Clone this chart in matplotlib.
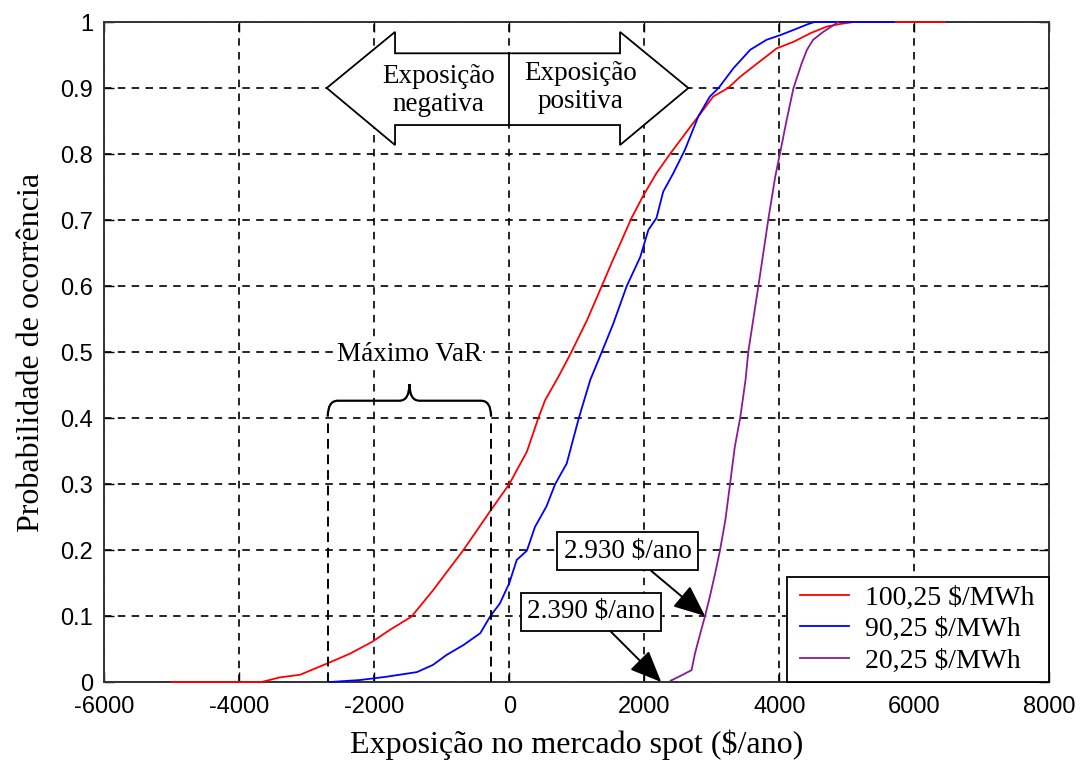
import matplotlib
matplotlib.use("Agg")
import matplotlib.pyplot as plt
from matplotlib.path import Path
from matplotlib.patches import PathPatch, Polygon
from matplotlib.legend_handler import HandlerLine2D
from matplotlib.lines import Line2D

# ---------------- data ----------------
red_label = "100,25 $/MWh"
red_x = [-5000, -3670, -3400, -3100, -2700, -2360, -2030, -1770, -1450, -1130, -680, -290, 0,
         260, 430, 530, 730, 920, 1150, 1370, 1520, 1690, 1810, 1990, 2180, 2380, 2680, 2830,
         3020, 3240, 3420, 3670, 3960, 4210, 4460, 4700, 4900, 5100, 6450]
red_y = [0, 0, 0.007, 0.011, 0.028, 0.043, 0.061, 0.079, 0.099, 0.139, 0.2, 0.258, 0.3,
         0.349, 0.4, 0.427, 0.463, 0.5, 0.548, 0.6, 0.636, 0.675, 0.703, 0.738, 0.771, 0.8, 0.841, 0.861,
         0.887, 0.9, 0.917, 0.937, 0.96, 0.97, 0.983, 0.993, 0.997, 1.0, 1.0]

blue_label = "90,25 $/MWh"
blue_x = [-2660, -2210, -1820, -1370, -1130, -930, -680, -430, -280, -140, 0, 110, 260, 380,
          550, 680, 850, 1030, 1200, 1370, 1540, 1740, 1940, 2060, 2180, 2280, 2430, 2600, 2800,
          2970, 3100, 3320, 3570, 3810, 4010, 4210, 4430, 4520, 5700]
blue_y = [0, 0.003, 0.008, 0.015, 0.026, 0.041, 0.056, 0.074, 0.1, 0.119, 0.15, 0.185, 0.199, 0.235,
          0.266, 0.3, 0.331, 0.4, 0.458, 0.5, 0.543, 0.6, 0.644, 0.685, 0.703, 0.743, 0.771, 0.806, 0.857,
          0.887, 0.9, 0.93, 0.958, 0.973, 0.98, 0.988, 0.997, 1.0, 1.0]

purple_label = "20,25 $/MWh"
purple_x = [2390, 2530, 2700, 2750, 2830, 2900, 2970, 3050, 3120, 3200, 3270, 3340, 3420, 3500,
            3540, 3690, 3840, 3940, 4010, 4110, 4210, 4330, 4410, 4500, 4650, 4800, 4870]
purple_y = [0.002, 0.009, 0.018, 0.043, 0.074, 0.1, 0.129, 0.165, 0.199, 0.245, 0.3, 0.356, 0.4, 0.458,
            0.5, 0.6, 0.703, 0.766, 0.801, 0.852, 0.9, 0.937, 0.958, 0.973, 0.985, 0.995, 1.0]

x_ticks = [-6000, -4000, -2000, 0, 2000, 4000, 6000, 8000]
y_ticks = [0, 0.1, 0.2, 0.3, 0.4, 0.5, 0.6, 0.7, 0.8, 0.9, 1.0]
y_tick_labels = ["0", "0.1", "0.2", "0.3", "0.4", "0.5", "0.6", "0.7", "0.8", "0.9", "1"]

var_left, var_right = -2690, -270
ann1_value, ann1_prob, ann1_text = 2900, 0.1, "2.930 $/ano"
ann2_value, ann2_prob, ann2_text = 2250, 0.0, "2.390 $/ano"

# ---------------- figure ----------------
serif = ["Liberation Serif", "DejaVu Serif"]
sans = ["Liberation Sans", "DejaVu Sans"]

fig = plt.figure(figsize=(10.82, 7.67), dpi=100)
ax = fig.add_axes([0.0964, 0.1108, 0.8734, 0.8605])

l1, = ax.plot(red_x, red_y, color="#ff0000", lw=1.3, label=red_label, zorder=3, clip_on=False)
l2, = ax.plot(blue_x, blue_y, color="#0000ff", lw=1.3, label=blue_label, zorder=3, clip_on=False)
l3, = ax.plot(purple_x, purple_y, color="#8B1A96", lw=1.3, label=purple_label, zorder=3, clip_on=False)

ax.set_xlim(-6000, 8000)
ax.set_ylim(0, 1)
ax.set_xticks(x_ticks)
ax.set_xticklabels([str(t) for t in x_ticks], fontfamily=sans, fontsize=17)
ax.set_yticks(y_ticks)
ax.set_yticklabels(y_tick_labels, fontfamily=sans, fontsize=17)
ax.tick_params(direction="in", length=7, width=1.0, top=True, right=True, colors="black")
ax.tick_params(axis="x", pad=10)
ax.tick_params(axis="y", pad=8)
ax.grid(True, color="black", lw=1.2, linestyle=(0, (4.5, 3.8)))
for s in ax.spines.values():
    s.set_linewidth(1.4)
    s.set_color("#333333")

ax.set_xlabel("Exposição no mercado spot ($/ano)", fontfamily=serif, fontsize=23, labelpad=8)
ax.set_ylabel("Probabilidade de ocorrência", fontfamily=serif, fontsize=23, labelpad=10)

# ---------------- double arrow ----------------
arrow_pts = [(-2705, 0.9), (-1693, 0.985), (-1693, 0.9526), (1640, 0.9526), (1640, 0.985),
             (2652, 0.9), (1640, 0.8136), (1640, 0.8439), (-1693, 0.8439), (-1693, 0.8136)]
ax.add_patch(Polygon(arrow_pts, closed=True, facecolor="white", edgecolor="black",
                     lw=1.3, zorder=4, clip_on=False))
ax.plot([0, 0], [0.8439, 0.9526], color="black", lw=1.3, zorder=5)
ax.text(-1050, 0.8965, "Exposição\nnegativa", ha="center", va="center", fontfamily=serif,
        fontsize=19.5, linespacing=1.15, zorder=6)
ax.text(1060, 0.9005, "Exposição\npositiva", ha="center", va="center", fontfamily=serif,
        fontsize=19.5, linespacing=1.15, zorder=6)

# ---------------- Máximo VaR ----------------
ax.plot([var_left, var_left], [0, 0.4], color="black", lw=1.4, linestyle=(0, (5, 3)), zorder=4)
ax.plot([var_right, var_right], [0, 0.4], color="black", lw=1.4, linestyle=(0, (5, 3)), zorder=4)
xc = (var_left + var_right) / 2
yb, ym, yt = 0.402, 0.4262, 0.4515
r = 150
verts = [(var_left, yb), (var_left, ym), (var_left + r, ym),
         (xc - r, ym), (xc, ym), (xc, yt),
         (xc, ym), (xc + r, ym),
         (var_right - r, ym), (var_right, ym), (var_right, yb)]
codes = [Path.MOVETO, Path.CURVE3, Path.CURVE3,
         Path.LINETO, Path.CURVE3, Path.CURVE3,
         Path.CURVE3, Path.CURVE3,
         Path.LINETO, Path.CURVE3, Path.CURVE3]
ax.add_patch(PathPatch(Path(verts, codes), facecolor="none", edgecolor="black", lw=1.6, zorder=5))
ax.text(xc, 0.4955, "Máximo VaR", ha="center", va="center", fontfamily=serif, fontsize=19.5,
        zorder=6, bbox=dict(facecolor="white", edgecolor="none", pad=1))

# ---------------- value annotations ----------------
arrowprops = dict(arrowstyle="-|>,head_length=0.75,head_width=0.32", color="black", lw=1.4,
                  mutation_scale=26, shrinkA=0, shrinkB=0)
ax.annotate(ann1_text, xy=(ann1_value, ann1_prob), xytext=(1751, 0.1985), ha="center", va="center",
            fontfamily=serif, fontsize=19.5, zorder=7,
            bbox=dict(boxstyle="square,pad=0.24", facecolor="white", edgecolor="black", lw=1.3),
            arrowprops=arrowprops)
ax.annotate(ann2_text, xy=(ann2_value, ann2_prob), xytext=(1210, 0.1065), ha="center", va="center",
            fontfamily=serif, fontsize=19.5, zorder=7,
            bbox=dict(boxstyle="square,pad=0.24", facecolor="white", edgecolor="black", lw=1.3),
            arrowprops=arrowprops)

# ---------------- legend ----------------
hmap = {l: HandlerLine2D(xpad=0.18) for l in (l1, l2, l3)}
leg = ax.legend(handles=[l1, l2, l3], labels=[red_label + " ", blue_label + " ", purple_label + " "],
                handler_map=hmap, loc="lower right", borderaxespad=0, fancybox=False, framealpha=1,
                edgecolor="black", prop={"family": serif, "size": 20},
                handlelength=1.95, handletextpad=0.55, borderpad=0.3, labelspacing=0.22)
leg.get_frame().set_linewidth(1.3)
leg.set_zorder(8)

fig.savefig("out.png", dpi=100)
